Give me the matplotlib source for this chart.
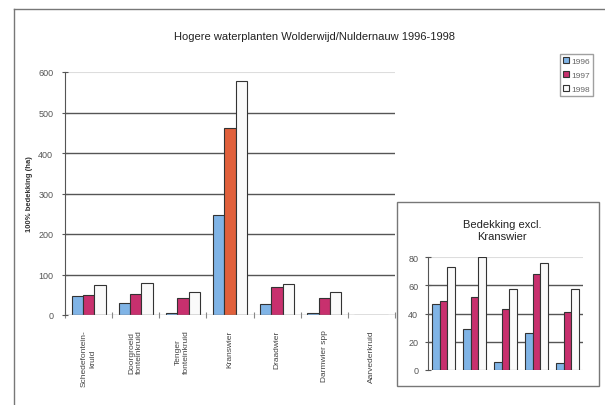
import matplotlib.pyplot as plt
import numpy as np
from matplotlib.patches import Rectangle
from matplotlib.lines import Line2D

plt.rcParams['font.family'] = ['Liberation Sans', 'DejaVu Sans']

# Bedekking per soort (ha), 1996-1998
soorten = ["Schedefontein-\nkruid", "Doorgroeid\nfonteinkruid", "Tenger\nfonteinkruid",
           "Kranswier", "Draadwier", "Darmwier spp", "Aarvederkruid"]
jaren = ["1996", "1997", "1998"]
v1996 = [47, 29, 6, 247, 26, 5, 0]
v1997 = [49, 52, 43, 462, 68, 41, 0]
v1998 = [73, 80, 57, 577, 76, 57, 0]

kleuren = ["#80b4e6", "#c8306e", "#fafafa"]
kranswier_1997 = "#e0603c"
rand = "#333333"
grijs = "#555555"

fig = plt.figure(figsize=(6.05, 4.06), dpi=100)

# buitenkader
fig.add_artist(Line2D([14 / 605, 14 / 605], [0.0, 1 - 10 / 406], color="#777777", lw=1.0))
fig.add_artist(Line2D([14 / 605, 1.0], [1 - 10 / 406, 1 - 10 / 406], color="#777777", lw=1.0))

fig.text(0.52, 1 - 37 / 406, "Hogere waterplanten Wolderwijd/Nuldernauw 1996-1998",
         ha="center", va="center", fontsize=8, color="#222222")

# hoofdgrafiek
ax = fig.add_axes([65 / 605, 90 / 406, 330 / 605, 243 / 406])
x = np.arange(len(soorten))
w = 0.24
series = [v1996, v1997, v1998]
for i, vals in enumerate(series):
    cols = [kleuren[i]] * len(vals)
    if i == 1:
        cols[3] = kranswier_1997
    ax.bar(x + (i - 1) * w, vals, w, color=cols, edgecolor=rand, linewidth=0.8, zorder=3,
           label=jaren[i])

ax.set_xlim(-0.5, len(soorten) - 0.5)
ax.set_ylim(0, 600)
ax.set_yticks(range(0, 601, 100))
for yv in range(100, 501, 100):
    ax.axhline(yv, color=grijs, lw=1.0, zorder=1)
ax.axhline(600, color="#dddddd", lw=0.8, zorder=1)
ax.axhline(0, color="#888888", lw=1.0, zorder=4)
for s in ["top", "right", "bottom"]:
    ax.spines[s].set_visible(False)
ax.spines["left"].set_color(grijs)
ax.set_xticks(np.arange(len(soorten) + 1) - 0.5)
ax.set_xticklabels([])
ax.tick_params(axis="x", direction="inout", length=4, color="#888888")
ax.tick_params(axis="y", direction="inout", length=5, color=grijs, labelsize=6.5,
               labelcolor="#555555", pad=6)
for xi, naam in zip(x, soorten):
    ax.text(xi, -0.06, naam, transform=ax.get_xaxis_transform(), rotation=90,
            ha="center", va="top", multialignment="center", fontsize=6, color="#444444")
ax.set_ylabel("100% bedekking (ha)", fontsize=5.5, fontweight="bold", color="#333333",
              labelpad=4)

fig.legend(loc="upper left", bbox_to_anchor=(560 / 605, 1 - 55 / 406), fontsize=6,
           frameon=True, edgecolor="#888888", fancybox=False, handlelength=0.7,
           handleheight=0.7, handletextpad=0.25, labelspacing=0.7, borderpad=0.4,
           borderaxespad=0, labelcolor="#666666")

# inzet zonder kranswier
fig.add_artist(Rectangle((397 / 605, 19 / 406), 202 / 605, 184 / 406, transform=fig.transFigure,
                         facecolor="white", edgecolor="#777777", lw=1.0, zorder=2))
fig.text(502 / 605, 1 - 231 / 406, "Bedekking excl.\nKranswier", ha="center", va="center",
         fontsize=8, color="#222222", linespacing=1.3, zorder=3)

idx = [0, 1, 2, 4, 5]
ax2 = fig.add_axes([428 / 605, 35 / 406, 155 / 605, 113 / 406], zorder=3)
ax2.patch.set_alpha(0)
x2 = np.arange(len(idx))
w2 = 0.24
for i, vals in enumerate(series):
    ax2.bar(x2 + (i - 1) * w2, [vals[k] for k in idx], w2, color=kleuren[i],
            edgecolor=rand, linewidth=0.8, zorder=3)
ax2.set_xlim(-0.5, len(idx) - 0.5)
ax2.set_ylim(0, 80)
ax2.set_yticks(range(0, 81, 20))
for yv in (20, 40, 60):
    ax2.axhline(yv, color=grijs, lw=1.0, zorder=1)
ax2.axhline(80, color="#dddddd", lw=0.8, zorder=1)
ax2.axhline(0, color="#bbbbbb", lw=0.8, zorder=1)
for s in ["top", "right", "bottom"]:
    ax2.spines[s].set_visible(False)
ax2.spines["left"].set_color(grijs)
ax2.set_xticks([])
ax2.tick_params(axis="y", direction="inout", length=4, color=grijs, labelsize=6.5,
                labelcolor="#555555", pad=5)

fig.savefig("out.png", dpi=100)
